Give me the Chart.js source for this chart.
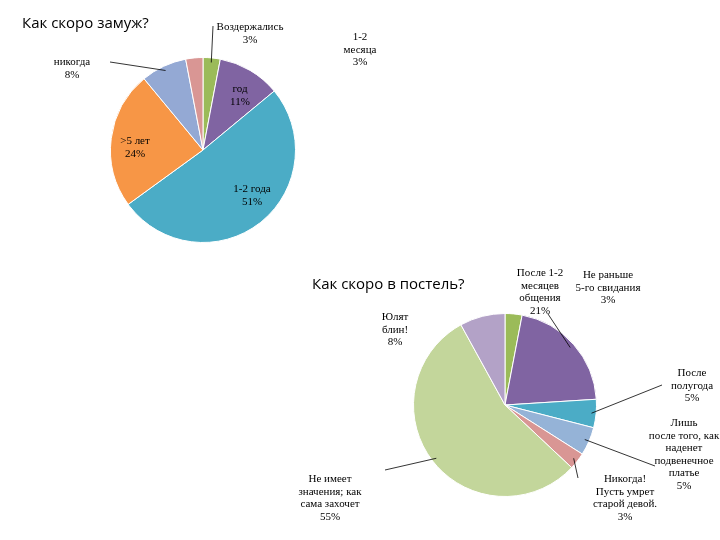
<!DOCTYPE html>
<html><head><meta charset="utf-8">
<script src="https://cdn.jsdelivr.net/npm/chart.js@4/dist/chart.umd.min.js"></script>
<style>
body{margin:0;background:#fff;width:720px;height:540px;position:relative;overflow:hidden}
canvas{position:absolute;left:0;top:0}
.t{position:absolute;font-family:"Open Sans","Noto Sans",sans-serif;font-size:15px;color:#000}
.l{position:absolute;font-family:"Liberation Serif",serif;font-size:11px;line-height:12.5px;text-align:center;transform:translateX(-50%);white-space:nowrap;color:#000}
</style></head><body>
<canvas id="c1" width="720" height="540"></canvas>
<canvas id="c2" width="720" height="540"></canvas>
<div class="t" style="left:22px;top:12px">Как скоро замуж?</div>
<div class="t" style="left:312px;top:273px">Как скоро в постель?</div>
<div id="labels"></div>
<script>
// chart 1: Как скоро замуж?
const marryLabels = ['Воздержались', 'год', '1-2 года', '>5 лет', 'никогда', '1-2 месяца'];
const marryValues = [3, 11, 51, 24, 8, 3];
const marryColors = ['#9BBB59', '#8064A2', '#4BACC6', '#F79646', '#94A9D4', '#D99694'];

// chart 2: Как скоро в постель?
const bedLabels = ['Не раньше 5-го свидания', 'После 1-2 месяцев общения', 'После полугода',
  'Лишь после того, как наденет подвенечное платье', 'Никогда! Пусть умрет старой девой.',
  'Не имеет значения; как сама захочет', 'Юлят блин!'];
const bedValues = [3, 21, 5, 5, 3, 55, 8];
const bedColors = ['#9BBB59', '#8064A2', '#4BACC6', '#95B3D7', '#D99694', '#C3D69B', '#B3A2C7'];

// label placement: [text lines, x, y, leader end x, leader end y or null]
const marryPlaces = [
  [['Воздержались', '3%'], 250, 20, 213, 26],
  [['год', '11%'], 240, 82, null],
  [['1-2 года', '51%'], 252, 182, null],
  [['>5 лет', '24%'], 135, 134, null],
  [['никогда', '8%'], 72, 55, 110, 62],
  [['1-2', 'месяца', '3%'], 360, 30, null]
];
const bedPlaces = [
  [['Не раньше', '5-го свидания', '3%'], 608, 268, null],
  [['После 1-2', 'месяцев', 'общения', '21%'], 540, 266, 548, 314],
  [['После', 'полугода', '5%'], 692, 366, 662, 385],
  [['Лишь', 'после того, как', 'наденет', 'подвенечное', 'платье', '5%'], 684, 416, 655, 466],
  [['Никогда!', 'Пусть умрет', 'старой девой.', '3%'], 625, 472, 578, 478],
  [['Не имеет', 'значения; как', 'сама захочет', '55%'], 330, 472, 385, 470],
  [['Юлят', 'блин!', '8%'], 395, 310, null]
];

const box = document.getElementById('labels');
[marryPlaces, bedPlaces].forEach(pl => pl.forEach(p => {
  const d = document.createElement('div');
  d.className = 'l';
  d.style.left = p[1] + 'px';
  d.style.top = p[2] + 'px';
  d.innerHTML = p[0].join('<br>');
  box.appendChild(d);
}));

function leaderPlugin(places) {
  return {
    id: 'leaders',
    afterDraw(chart) {
      const ctx = chart.ctx;
      const arcs = chart.getDatasetMeta(0).data;
      ctx.save();
      ctx.strokeStyle = '#000';
      ctx.lineWidth = 0.8;
      arcs.forEach((a, i) => {
        const p = places[i];
        if (p[3] == null) return;
        const mid = (a.startAngle + a.endAngle) / 2;
        const x = a.x + Math.cos(mid) * a.outerRadius * 0.95;
        const y = a.y + Math.sin(mid) * a.outerRadius * 0.95;
        ctx.beginPath();
        ctx.moveTo(p[3], p[4]);
        ctx.lineTo(x, y);
        ctx.stroke();
      });
      ctx.restore();
    }
  };
}

function makePie(id, values, colors, labels, places, pad) {
  return new Chart(document.getElementById(id), {
    type: 'pie',
    data: { labels: labels, datasets: [{ data: values, backgroundColor: colors, borderColor: '#fff', borderWidth: 1 }] },
    options: {
      responsive: false,
      animation: false,
      layout: { padding: pad },
      plugins: { legend: { display: false }, tooltip: { enabled: false } }
    },
    plugins: [leaderPlugin(places)]
  });
}

makePie('c1', marryValues, marryColors, marryLabels, marryPlaces, { left: 110, right: 424, top: 57, bottom: 297 });
makePie('c2', bedValues, bedColors, bedLabels, bedPlaces, { left: 413, right: 123, top: 313, bottom: 43 });
</script>
</body></html>
